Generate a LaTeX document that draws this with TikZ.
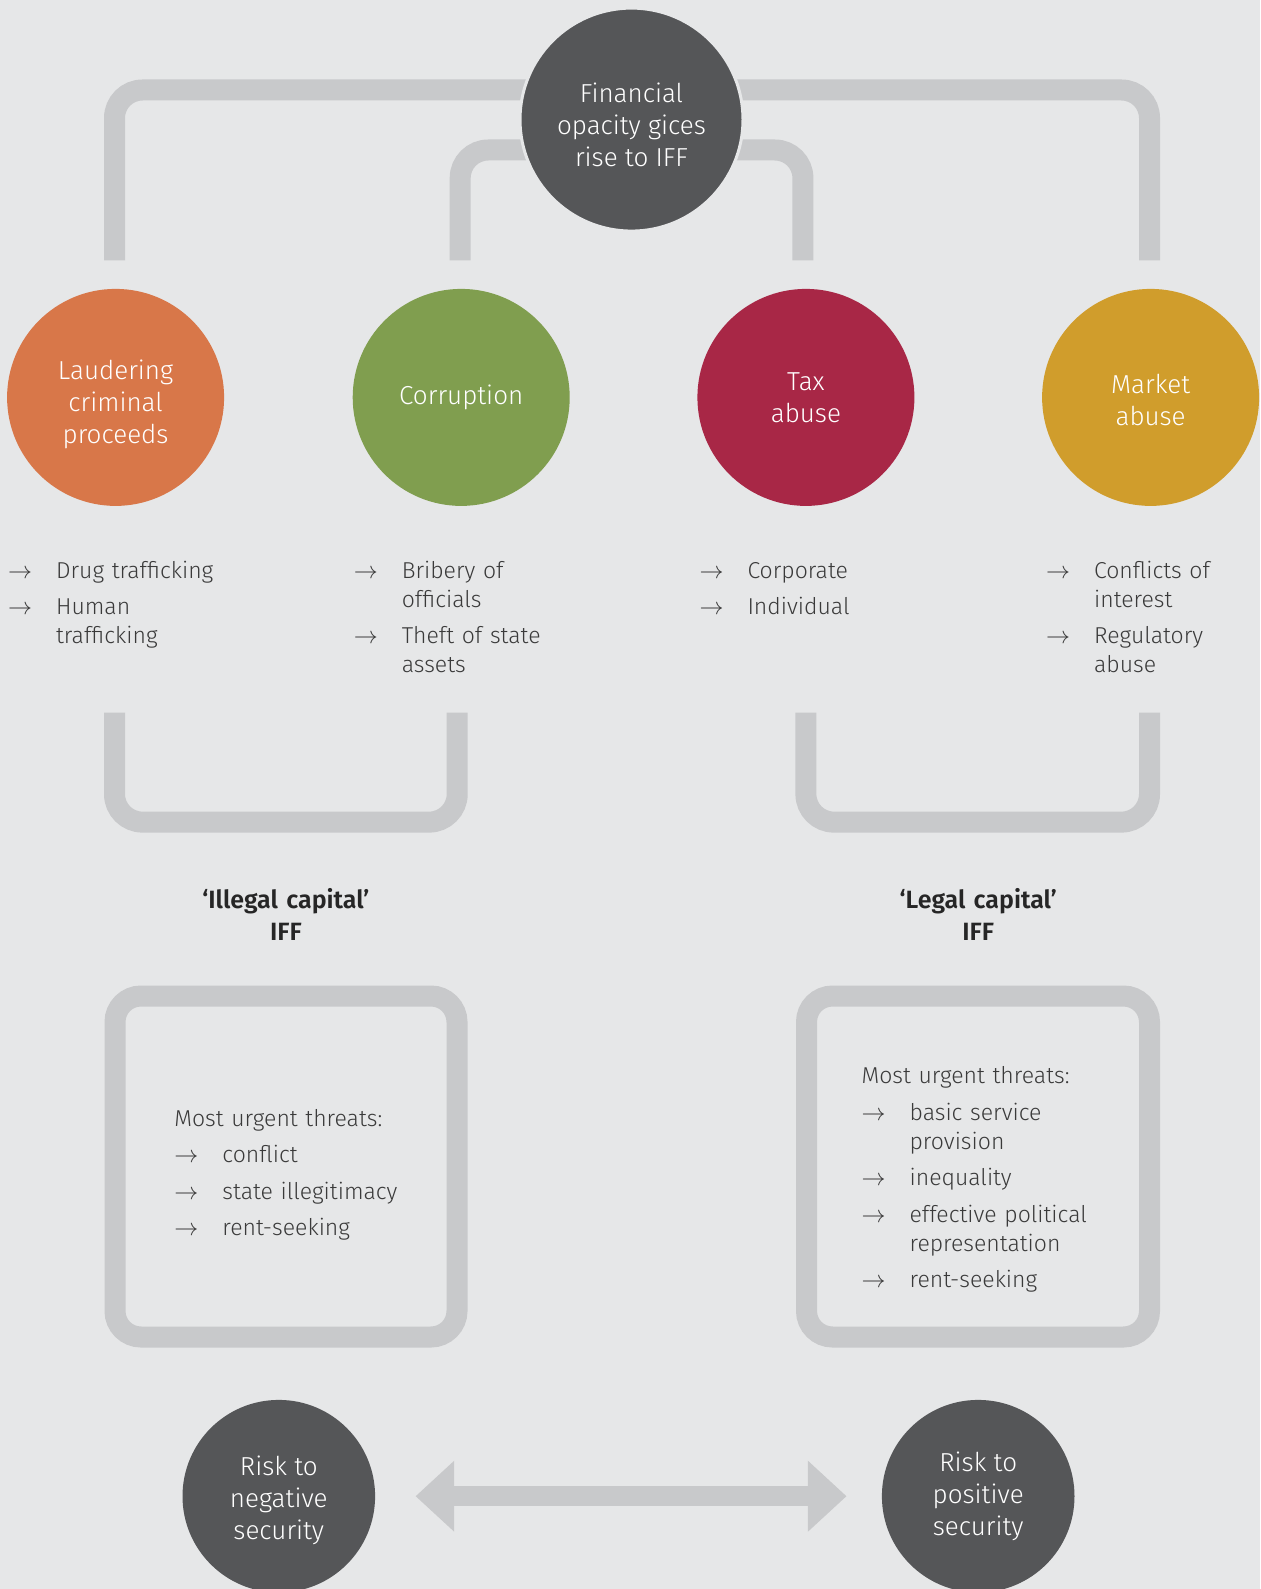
\documentclass[tikz,border=0pt]{standalone}
\usepackage{fontspec}
\setmainfont{Fira Sans}[UprightFont=* Light, BoldFont=* SemiBold]
\usetikzlibrary{arrows.meta}

\definecolor{paper}{HTML}{E6E7E8}
\definecolor{bargrey}{HTML}{C8C9CB}
\definecolor{hubgrey}{HTML}{555658}
\definecolor{ink}{HTML}{3A3A3A}
\definecolor{launder}{HTML}{D87749}
\definecolor{corrupt}{HTML}{809E4F}
\definecolor{taxred}{HTML}{A82746}
\definecolor{market}{HTML}{D09D2C}

% one arrow item, hanging indent for wrapped lines
\newcommand\itm[1]{\hangindent=24pt\hangafter=1\noindent\makebox[24pt][l]{$\rightarrow$}#1\par\parskip=3.75pt}
% invisible strut to push the text of a bubble down a little
\newcommand\lift[1]{\rule{0pt}{#1}}

\begin{document}
\begin{tikzpicture}[x=0.5pt, y=-0.5pt,
  every node/.style={inner sep=0pt, outer sep=0pt},
  bubble/.style={circle, text=white, align=center, font=\fontsize{13}{16}\selectfont},
  hub/.style={bubble, fill=hubgrey, draw=paper, line width=1.5pt, minimum size=111.5pt},
  kind/.style={bubble, minimum size=108.5pt},
  risk/.style={bubble, fill=hubgrey, minimum size=96.3pt},
  bracket/.style={draw=bargrey, line width=10.5pt, rounded corners=14pt},
  frame/.style={draw=bargrey, line width=10.5pt, rounded corners=13pt},
  itemlist/.style={anchor=base west, text width=#1, align=left, text=ink, font=\fontsize{11.5}{14.5}\selectfont},
  title/.style={anchor=base, text width=130pt, align=center, text=black!85, font=\bfseries\fontsize{12.5}{16}\selectfont},
  twoway/.style={draw=bargrey, line width=10pt,
    {Triangle[width=35.5pt,length=19.25pt,line width=0pt]}-{Triangle[width=35.5pt,length=19.25pt,line width=0pt]}}
]

\useasboundingbox (0,0) rectangle (1260,1589);
\fill[paper] (0,0) rectangle (1260,1589);

% free ends of the brackets
\coordinate (lau-up) at (114.5,260.5);
\coordinate (cor-up) at (460.2,260.5);
\coordinate (tax-up) at (802.9,260.5);
\coordinate (mkt-up) at (1149.5,260.5);
\coordinate (lau-down) at (114.5,712.6);
\coordinate (cor-down) at (457.2,712.6);
\coordinate (tax-down) at (805.9,712.6);
\coordinate (mkt-down) at (1149.5,712.6);

\draw[bracket] (lau-up) -- ++(0,-170.5) -| (mkt-up);
\draw[bracket] (cor-up) -- ++(0,-110.5) -| (tax-up);
\draw[bracket] (lau-down) -- ++(0,109.5) -| (cor-down);
\draw[bracket] (tax-down) -- ++(0,109.5) -| (mkt-down);

\node[hub] (opacity) at (631.5,119.6) {\lift{15pt}Financial\\opacity gices\\rise to IFF};

\node[kind, fill=launder] (laund) at (115.6,397.4) {\lift{16.5pt}Laudering\\criminal\\proceeds};
\node[kind, fill=corrupt] (corr) at (461.2,397.4) {Corruption};
\node[kind, fill=taxred] (tax) at (805.9,397.4) {Tax\\abuse};
\node[kind, fill=market] (mkt) at (1150.6,397.4) {\lift{12.5pt}Market\\abuse};

\node[itemlist=120pt] (laund-list) at (8.1,578) {\itm{Drug trafficking}\itm{Human\newline trafficking}};
\node[itemlist=120pt] (corr-list) at (353.8,578) {\itm{Bribery of\newline officials}\itm{Theft of state\newline assets}};
\node[itemlist=120pt] (tax-list) at (699.5,578) {\itm{Corporate}\itm{Individual}};
\node[itemlist=100pt] (mkt-list) at (1046.1,578) {\itm{Conflicts of\newline interest}\itm{Regulatory\newline abuse}};

\node[title] (illegal) at (285.9,908) {‘Illegal capital’\\IFF};
\node[title] (legal) at (978.2,908) {‘Legal capital’\\IFF};

\node[frame, minimum width=171pt, minimum height=170.5pt] (illegal-box) at (286,1166.5) {};
\node[frame, minimum width=171.5pt, minimum height=170.5pt] (legal-box) at (978,1166.5) {};

\node[itemlist=130pt] (illegal-threats) at (174.4,1126) {Most urgent threats:\par\parskip=3.75pt
  \itm{conflict}\itm{state illegitimacy}\itm{rent-seeking}};
\node[itemlist=130pt] (legal-threats) at (861.6,1083.5) {Most urgent threats:\par\parskip=3.75pt
  \itm{basic service\newline provision}\itm{inequality}\itm{effective political\newline representation}\itm{rent-seeking}};

\node[risk] (negrisk) at (278.8,1496.2) {\lift{13.5pt}Risk to\\negative\\security};
\node[risk] (posrisk) at (978.2,1496.2) {Risk to\\positive\\security};

\draw[twoway, shorten <=20.3pt, shorten >=17.75pt] (negrisk) -- (posrisk);

\end{tikzpicture}
\end{document}
